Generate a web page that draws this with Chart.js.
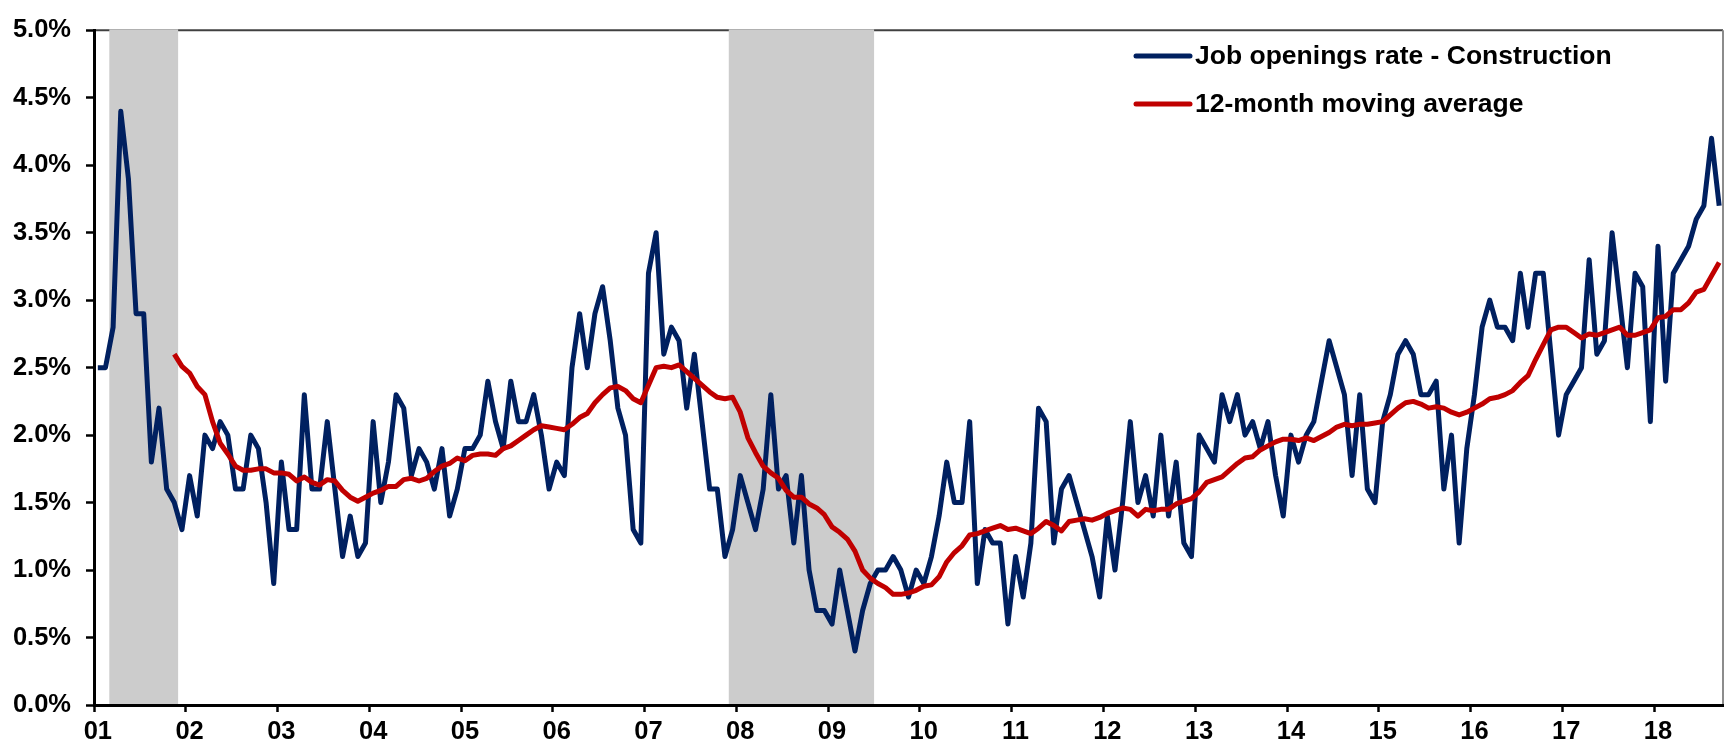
<!DOCTYPE html>
<html>
<head>
<meta charset="utf-8">
<title>Job openings rate - Construction</title>
<script src="https://cdn.jsdelivr.net/npm/chart.js@4.4.0/dist/chart.umd.min.js"></script>
<style>
    html, body { margin: 0; padding: 0; background: #fff; }
    #wrap { width: 1729px; height: 750px; }
</style>
</head>
<body>
<div id="wrap"><canvas id="chart" width="1729" height="750"></canvas></div>
<script>
// --- DATA ---
// year tick labels, monthly data starts Jan 2001
const yearLabels = ['01', '02', '03', '04', '05', '06', '07', '08', '09',
    '10', '11', '12', '13', '14', '15', '16', '17', '18'];

// recession shading, [first month, last month]
const recessions = [['01-03', '01-11'], ['07-12', '09-06']];

// job openings rate, construction (%), one row per year
const jobOpeningsRate = [
    2.5, 2.5, 2.8, 4.4, 3.9, 2.9, 2.9, 1.8, 2.2, 1.6, 1.5, 1.3,
    1.7, 1.4, 2.0, 1.9, 2.1, 2.0, 1.6, 1.6, 2.0, 1.9, 1.5, 0.9,
    1.8, 1.3, 1.3, 2.3, 1.6, 1.6, 2.1, 1.6, 1.1, 1.4, 1.1, 1.2,
    2.1, 1.5, 1.8, 2.3, 2.2, 1.7, 1.9, 1.8, 1.6, 1.9, 1.4, 1.6,
    1.9, 1.9, 2.0, 2.4, 2.1, 1.9, 2.4, 2.1, 2.1, 2.3, 2.0, 1.6,
    1.8, 1.7, 2.5, 2.9, 2.5, 2.9, 3.1, 2.7, 2.2, 2.0, 1.3, 1.2,
    3.2, 3.5, 2.6, 2.8, 2.7, 2.2, 2.6, 2.1, 1.6, 1.6, 1.1, 1.3,
    1.7, 1.5, 1.3, 1.6, 2.3, 1.6, 1.7, 1.2, 1.7, 1.0, 0.7, 0.7,
    0.6, 1.0, 0.7, 0.4, 0.7, 0.9, 1.0, 1.0, 1.1, 1.0, 0.8, 1.0,
    0.9, 1.1, 1.4, 1.8, 1.5, 1.5, 2.1, 0.9, 1.3, 1.2, 1.2, 0.6,
    1.1, 0.8, 1.2, 2.2, 2.1, 1.2, 1.6, 1.7, 1.5, 1.3, 1.1, 0.8,
    1.4, 1.0, 1.5, 2.1, 1.5, 1.7, 1.4, 2.0, 1.4, 1.8, 1.2, 1.1,
    2.0, 1.9, 1.8, 2.3, 2.1, 2.3, 2.0, 2.1, 1.9, 2.1, 1.7, 1.4,
    2.0, 1.8, 2.0, 2.1, 2.4, 2.7, 2.5, 2.3, 1.7, 2.3, 1.6, 1.5,
    2.1, 2.3, 2.6, 2.7, 2.6, 2.3, 2.3, 2.4, 1.6, 2.0, 1.2, 1.9,
    2.3, 2.8, 3.0, 2.8, 2.8, 2.7, 3.2, 2.8, 3.2, 3.2, 2.6, 2.0,
    2.3, 2.4, 2.5, 3.3, 2.6, 2.7, 3.5, 3.0, 2.5, 3.2, 3.1, 2.1,
    3.4, 2.4, 3.2, 3.3, 3.4, 3.6, 3.7, 4.2, 3.7
];

// 12-month moving average (%), starts Nov 2001
const movingAverage = [
    null, null, null, null, null, null, null, null, null, null, 2.60, 2.51,
    2.46, 2.36, 2.30, 2.10, 1.94, 1.86, 1.77, 1.74, 1.74, 1.75, 1.75, 1.72,
    1.72, 1.71, 1.66, 1.69, 1.65, 1.63, 1.67, 1.66, 1.59, 1.54, 1.51, 1.54,
    1.57, 1.59, 1.62, 1.62, 1.67, 1.68, 1.66, 1.68, 1.73, 1.77, 1.79, 1.83,
    1.81, 1.85, 1.86, 1.86, 1.85, 1.90, 1.92, 1.96, 2.00, 2.04, 2.07, 2.06,
    2.05, 2.04, 2.08, 2.13, 2.16, 2.24, 2.30, 2.35, 2.36, 2.33, 2.27, 2.24,
    2.37, 2.50, 2.51, 2.50, 2.52, 2.47, 2.42, 2.37, 2.32, 2.28, 2.27, 2.28,
    2.17, 1.98, 1.87, 1.77, 1.72, 1.68, 1.59, 1.54, 1.54, 1.49, 1.46, 1.41,
    1.32, 1.28, 1.23, 1.14, 1.00, 0.94, 0.90, 0.87, 0.82, 0.82, 0.83, 0.85,
    0.88, 0.89, 0.95, 1.06, 1.13, 1.18, 1.26, 1.27, 1.29, 1.31, 1.33, 1.30,
    1.31, 1.29, 1.27, 1.31, 1.36, 1.33, 1.29, 1.36, 1.37, 1.38, 1.37, 1.39,
    1.42, 1.44, 1.46, 1.45, 1.40, 1.45, 1.44, 1.45, 1.45, 1.49, 1.51, 1.53,
    1.58, 1.65, 1.67, 1.69, 1.74, 1.79, 1.83, 1.84, 1.89, 1.92, 1.95, 1.97,
    1.97, 1.96, 1.98, 1.96, 1.99, 2.02, 2.06, 2.08, 2.07, 2.08, 2.08, 2.09,
    2.10, 2.15, 2.20, 2.24, 2.25, 2.23, 2.20, 2.21, 2.20, 2.17, 2.15, 2.17,
    2.20, 2.23, 2.27, 2.28, 2.30, 2.33, 2.39, 2.44, 2.56, 2.67, 2.78, 2.80,
    2.80, 2.76, 2.72, 2.75, 2.74, 2.76, 2.78, 2.80, 2.74, 2.74, 2.76, 2.78,
    2.87, 2.88, 2.93, 2.93, 2.98, 3.06, 3.08, 3.18, 3.28
];

// month categories 'YY-MM', cut to the length of the data
const months = [];
yearLabels.forEach(yr => {
    for (let m = 1; m <= 12; m++) months.push(`${yr}-${String(m).padStart(2, '0')}`);
});
months.length = jobOpeningsRate.length;

const FONT = '"Liberation Sans", Arial, sans-serif';
const NAVY = '#002060';
const RED = '#C00000';

// grey recession bars + plot frame (top / right)
const recessionBands = {
    id: 'recessionBands',
    beforeDraw(chart) {
        const { ctx, chartArea: area, scales: { x } } = chart;
        ctx.save();
        ctx.lineWidth = 2;
        ctx.strokeStyle = '#404040';
        ctx.beginPath();
        ctx.moveTo(area.left, area.top);
        ctx.lineTo(area.right, area.top);
        ctx.stroke();
        ctx.strokeStyle = '#8c8c8c';
        ctx.beginPath();
        ctx.moveTo(area.right, area.top);
        ctx.lineTo(area.right, area.bottom);
        ctx.stroke();

        const half = (x.getPixelForValue(1) - x.getPixelForValue(0)) / 2;
        ctx.fillStyle = '#CCCCCC';
        recessions.forEach(([from, to]) => {
            const left = x.getPixelForValue(months.indexOf(from)) - half;
            const right = x.getPixelForValue(months.indexOf(to)) + half;
            ctx.fillRect(left, area.top - 1, right - left, area.bottom - area.top + 1);
        });
        ctx.restore();
    }
};

// legend in the top right corner, one row per dataset
const legendLines = {
    id: 'legendLines',
    afterDatasetsDraw(chart, args, opts) {
        const ctx = chart.ctx;
        ctx.save();
        ctx.font = `bold ${opts.fontSize}px ${FONT}`;
        ctx.textBaseline = 'middle';
        ctx.textAlign = 'left';
        chart.data.datasets.forEach((ds, i) => {
            const y = opts.y + i * opts.rowHeight;
            ctx.strokeStyle = ds.borderColor;
            ctx.lineWidth = ds.borderWidth;
            ctx.lineCap = 'round';
            ctx.beginPath();
            ctx.moveTo(opts.x, y);
            ctx.lineTo(opts.x + opts.lineLength, y);
            ctx.stroke();
            ctx.fillStyle = '#000';
            ctx.fillText(ds.label, opts.x + opts.lineLength + opts.gap, y + 1);
        });
        ctx.restore();
    }
};

new Chart(document.getElementById('chart'), {
    type: 'line',
    data: {
        labels: months,
        datasets: [
            { label: 'Job openings rate - Construction', data: jobOpeningsRate,
              borderColor: NAVY, borderWidth: 5, order: 2 },
            { label: '12-month moving average', data: movingAverage,
              borderColor: RED, borderWidth: 5, order: 1 }
        ]
    },
    options: {
        responsive: false,
        animation: false,
        devicePixelRatio: 1,
        layout: { padding: { top: 15, right: 6, left: 0, bottom: 0 } },
        elements: {
            point: { radius: 0, hoverRadius: 0 },
            line: { tension: 0, borderJoinStyle: 'round', borderCapStyle: 'butt' }
        },
        plugins: {
            legend: { display: false },
            tooltip: { enabled: false },
            legendLines: { x: 1136, y: 56, lineLength: 54, gap: 5, rowHeight: 48, fontSize: 26.5 }
        },
        scales: {
            x: {
                type: 'category',
                offset: true,
                grid: {
                    offset: true,
                    drawOnChartArea: false,
                    drawTicks: true,
                    tickLength: 7,
                    tickWidth: 2.5,
                    tickColor: (c) => (c.index % 12 === 0 ? '#000' : 'rgba(0,0,0,0)')
                },
                border: { display: true, color: '#000', width: 3 },
                ticks: {
                    autoSkip: false,
                    maxRotation: 0,
                    minRotation: 0,
                    padding: 5,
                    color: '#000',
                    font: { family: FONT, size: 25.5, weight: 'bold' },
                    callback: function (val) {
                        const lab = this.getLabelForValue(val);
                        return lab.endsWith('-01') ? lab.slice(0, 2) : '';
                    }
                },
                afterFit: (s) => { s.height = 45; }
            },
            y: {
                min: 0,
                max: 5,
                grid: {
                    drawOnChartArea: false,
                    drawTicks: true,
                    tickLength: 8,
                    tickWidth: 2.5,
                    tickColor: '#000'
                },
                border: { display: true, color: '#000', width: 3 },
                ticks: {
                    stepSize: 0.5,
                    padding: 15,
                    color: '#000',
                    font: { family: FONT, size: 25.5, weight: 'bold' },
                    callback: (v) => v.toFixed(1) + '%'
                },
                afterFit: (s) => { s.width = 94; }
            }
        }
    },
    plugins: [recessionBands, legendLines]
});
</script>
</body>
</html>
